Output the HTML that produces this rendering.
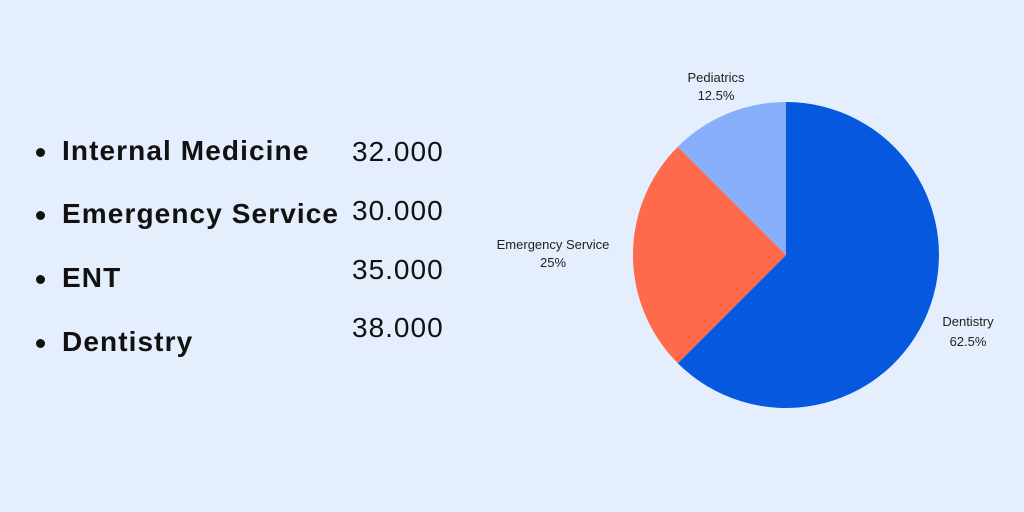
<!DOCTYPE html>
<html><head><style>
body{margin:0;width:1024px;height:512px;background:#e4eefd;overflow:hidden;font-family:"Liberation Sans",sans-serif;position:relative}
.l{position:absolute;font-weight:bold;font-size:28px;color:#111;white-space:nowrap;letter-spacing:1.1px}
.d{position:absolute;width:9px;height:9px;border-radius:50%;background:#111}
.n{position:absolute;font-size:28px;color:#111;left:352px;letter-spacing:1px}
</style></head><body>
<div class="d" style="left:36px;top:148px"></div><div class="l" style="left:62px;top:135px">Internal Medicine</div>
<div class="d" style="left:36px;top:211px"></div><div class="l" style="left:62px;top:198px">Emergency Service</div>
<div class="d" style="left:36px;top:275px"></div><div class="l" style="left:62px;top:262px">ENT</div>
<div class="d" style="left:36px;top:339px"></div><div class="l" style="left:62px;top:326px">Dentistry</div>
<div class="n" style="top:136px">32.000</div>
<div class="n" style="top:195px">30.000</div>
<div class="n" style="top:254px">35.000</div>
<div class="n" style="top:312px">38.000</div>
<svg width="1024" height="512" style="position:absolute;left:0;top:0">
<path d="M786,255 L786,102 A153,153 0 1 1 677.8,363.2 Z" fill="#0659de"/>
<path d="M786,255 L677.8,363.2 A153,153 0 0 1 677.8,146.8 Z" fill="#ff694c"/>
<path d="M786,255 L677.8,146.8 A153,153 0 0 1 786,102 Z" fill="#86aefb"/>
<g font-family="Liberation Sans" font-size="13" fill="#222" text-anchor="middle">
<text x="716" y="82">Pediatrics</text><text x="716" y="100">12.5%</text>
<text x="553" y="249">Emergency Service</text><text x="553" y="267">25%</text>
<text x="968" y="326">Dentistry</text><text x="968" y="346">62.5%</text>
</g></svg>
</body></html>
